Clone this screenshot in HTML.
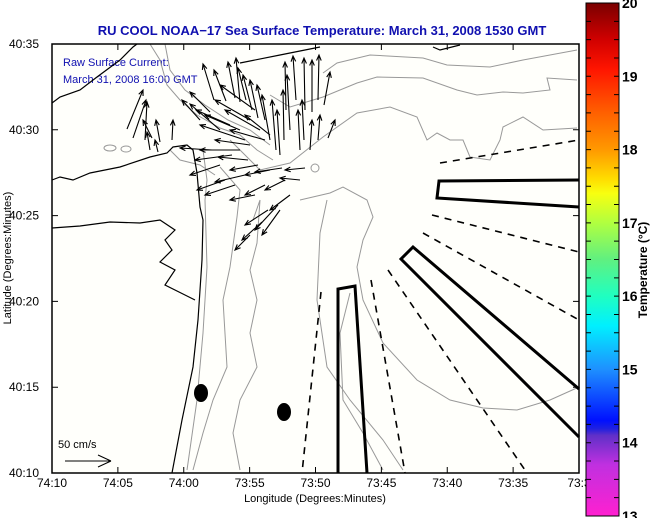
<!DOCTYPE html>
<html><head><meta charset="utf-8"><style>
html,body{margin:0;padding:0;background:#fff;}
svg{display:block;font-family:"Liberation Sans",sans-serif;}
</style></head><body>
<svg id="map" width="651" height="518" viewBox="0 0 651 518">
<defs>
<linearGradient id="cb" x1="0" y1="0" x2="0" y2="1">
<stop offset="0" stop-color="#7a0000"/><stop offset="0.071" stop-color="#d00000"/>
<stop offset="0.129" stop-color="#ff1500"/><stop offset="0.214" stop-color="#ff6000"/>
<stop offset="0.286" stop-color="#ff9900"/><stop offset="0.343" stop-color="#ffdd00"/>
<stop offset="0.371" stop-color="#f8ff10"/><stop offset="0.429" stop-color="#b0ff40"/>
<stop offset="0.5" stop-color="#60f080"/><stop offset="0.571" stop-color="#20ffc0"/>
<stop offset="0.629" stop-color="#00f0ff"/><stop offset="0.714" stop-color="#1e90ff"/>
<stop offset="0.814" stop-color="#0010ff"/><stop offset="0.83" stop-color="#2020e0"/>
<stop offset="0.843" stop-color="#6030c8"/><stop offset="0.9" stop-color="#c030e0"/>
<stop offset="1" stop-color="#ff20d0"/>
</linearGradient>
</defs>
<rect x="52" y="44" width="527" height="429" fill="#fffffb"/>
<text x="322" y="35" text-anchor="middle" font-size="13" font-weight="bold" fill="#1010b0">RU COOL  NOAA−17  Sea Surface Temperature:  March 31, 2008 1530 GMT</text>
<text x="63" y="66" font-size="11" fill="#1010b0">Raw Surface Current:</text>
<text x="63" y="83" font-size="11" fill="#1010b0">March 31, 2008 16:00 GMT</text>
<g id="contours" fill="none" stroke="#999" stroke-width="1"></g>
<g id="coast" fill="none" stroke="#000" stroke-width="1.2"></g>
<g id="boxes" fill="none" stroke="#000"></g>
<g id="arrows" stroke="#000" stroke-width="1.1" fill="none"></g>
<ellipse cx="201" cy="393" rx="7" ry="9" fill="#000"/>
<ellipse cx="284" cy="412" rx="7" ry="9" fill="#000"/>
<g>
<text x="58" y="448" font-size="11">50 cm/s</text>
<path d="M65 461 H111 M111 461 L98 455 M111 461 L98 467" stroke="#000" fill="none"/>
</g>
<rect x="52" y="44" width="527" height="429" fill="none" stroke="#000" stroke-width="1.5"/>
<g id="axes" font-size="12"></g>
<text x="315" y="502" text-anchor="middle" font-size="11">Longitude (Degrees:Minutes)</text>
<text transform="translate(11,258) rotate(-90)" text-anchor="middle" font-size="11">Latitude (Degrees:Minutes)</text>
<rect x="586" y="3" width="33" height="513" fill="url(#cb)" stroke="#000" stroke-width="1"/>
<g id="cbaxis"></g>
<text transform="translate(647,270) rotate(-90)" text-anchor="middle" font-size="12" font-weight="bold">Temperature (°C)</text>
</svg>
<script>
const xTickLabels=["74:10","74:05","74:00","73:55","73:50","73:45","73:40","73:35","73:3"];
const yTickLabels=["40:35","40:30","40:25","40:20","40:15","40:10"];
const cbTickValues=[13,14,15,16,17,18,19,20];
const NS="http://www.w3.org/2000/svg";
function mk(t,a,p){const e=document.createElementNS(NS,t);for(const k in a)e.setAttribute(k,a[k]);p.appendChild(e);return e;}
const px=i=>52+i*(527/8), py=i=>44+i*(429/5);
const ax=document.getElementById('axes');
xTickLabels.forEach((l,i)=>{
 const t=mk('text',{x:px(i),y:487,'text-anchor':'middle'},ax);t.textContent=l;
 
 
 mk('path',{d:`M${px(i)} 473 v-6 M${px(i)} 44 v6`,stroke:'#000'},ax);
});
yTickLabels.forEach((l,i)=>{
 const t=mk('text',{x:39,y:py(i)+4,'text-anchor':'end'},ax);t.textContent=l;
 
 
 mk('path',{d:`M52 ${py(i)} h6 M579 ${py(i)} h-6`,stroke:'#000'},ax);
});
const cb=document.getElementById('cbaxis');
const cy=v=>3+(20-v)/7*513;
for(let v=13;v<=20.001;v+=0.25){mk('path',{d:`M586 ${cy(v)} h5 M619 ${cy(v)} h-5`,stroke:'#000'},cb);}
cbTickValues.forEach(v=>{
 const t=mk('text',{x:622,y:cy(v)+5,'font-size':14,'font-weight':'bold'},cb);t.textContent=v;
 
 
});
const contourLines=[
[[323,73],[337,63],[370,55],[423,58],[447,65],[490,67],[523,60],[577,50]],
[[270,95],[290,107],[323,97],[357,83],[377,77],[423,78],[457,90],[477,95],[503,92],[523,93],[550,90],[547,78],[577,80]],
[[230,140],[260,170],[290,163],[323,137],[357,113],[390,107],[417,117],[427,140],[437,133],[450,140],[463,140],[470,157],[490,160],[500,140],[503,127],[523,117],[543,130],[577,128]],
[[300,200],[330,193],[343,187],[367,200],[373,217],[363,240],[357,267],[363,300],[383,343],[417,380],[450,400],[483,408],[517,410],[550,400],[579,387]],
[[327,200],[320,233],[317,300],[327,367],[350,400],[383,440],[403,470]],
[[350,293],[340,333],[343,400],[363,433],[383,470]],
[[203,150],[207,180],[205,200],[207,267],[203,333],[197,400],[187,470]],
[[220,167],[240,190],[237,217],[230,267],[223,300],[227,367],[213,400],[203,433],[193,470]],
[[253,220],[260,200],[257,243],[250,270],[257,300],[250,333],[257,367],[240,400],[233,433],[240,470]],
[[150,44],[160,60],[167,85],[180,100],[197,115],[220,128],[240,135],[257,150],[273,160]],
[[165,44],[170,70],[185,90],[205,105],[228,120],[250,130],[270,145]],
[[170,150],[180,160],[200,165],[215,175]]
];
const cg=document.getElementById('contours');
contourLines.forEach(c=>mk('polyline',{points:c.map(p=>p.join(',')).join(' ')},cg));
mk('ellipse',{cx:110,cy:148,rx:6,ry:3},cg);mk('ellipse',{cx:126,cy:149,rx:5,ry:3},cg);mk('ellipse',{cx:315,cy:168,rx:4,ry:4},cg);
const coastLines=[
[[52,103],[60,97],[80,90],[97,77],[120,60],[133,47],[137,44]],
[[240,63],[280,55],[320,47]],
[[52,180],[60,177],[73,180],[90,173],[120,167],[150,157],[167,153],[173,147],[187,145],[193,150],[197,173],[200,207],[203,220],[202,260],[198,320],[193,367],[182,420],[172,473]],
[[52,228],[80,226],[110,222],[140,223],[160,220],[175,230],[165,240],[172,250],[160,262],[175,270],[165,285],[185,295],[195,300]],
[[433,47],[440,50],[460,45]]
];
const cl=document.getElementById('coast');
coastLines.forEach(c=>mk('polyline',{points:c.map(p=>p.join(',')).join(' ')},cl));
const bx=document.getElementById('boxes');
mk('polyline',{points:'338,473 338,289 355,286 367,473','stroke-width':3},bx);
mk('polyline',{points:'579,389 413,247 401,259 579,437','stroke-width':3},bx);
mk('polyline',{points:'579,180 439,181 437,198 579,207','stroke-width':3},bx);
[[321,292,302,473],[371,280,405,473],[388,270,527,473],[423,233,579,320],[432,215,579,252],[440,163,579,140]].forEach(d=>
 mk('line',{x1:d[0],y1:d[1],x2:d[2],y2:d[3],'stroke-width':1.6,'stroke-dasharray':'7,6'},bx));
const arrowTails=[[214,100],[226,101],[235,98],[240,102],[246,100],[252,110],[258,118],[265,120],[270,140],[276,150],[280,155],[284,140],[290,130],[286,110],[296,100],[305,110],[312,112],[318,100],[324,105],[304,140],[300,150],[310,150],[318,140],[328,138],
[220,130],[230,125],[240,130],[250,120],[255,110],[260,130],[200,120],[210,112],[245,140],[265,140],[270,135],
[240,150],[250,145],[232,155],[220,165],[248,160],[258,165],[245,175],[235,185],[225,180],[270,170],[282,168],[265,185],[255,195],[285,180],[305,168],[300,180],[290,195],[278,205],[268,210],[262,222],[250,235],[280,210],[212,150],
[127,129],[133,138],[145,140],[152,138],[160,142],[172,140],[150,150],[158,152]];
const arrowHeads=[[203,64],[214,70],[228,62],[236,58],[238,68],[243,75],[250,80],[257,85],[262,95],[272,100],[277,110],[283,90],[287,75],[285,62],[293,56],[304,58],[312,60],[319,55],[330,72],[302,100],[298,110],[312,120],[320,115],[335,120],
[190,104],[196,110],[205,115],[215,100],[220,85],[225,110],[182,100],[190,92],[200,125],[230,130],[245,115],
[200,150],[215,140],[195,160],[190,175],[218,157],[230,170],[215,182],[205,195],[197,190],[245,175],[255,172],[245,195],[230,200],[265,190],[285,170],[280,178],[270,210],[255,230],[245,225],[242,240],[235,250],[262,235],[180,148],
[143,90],[146,100],[147,102],[143,120],[156,120],[173,120],[147,132],[155,140]];
const ag=document.getElementById('arrows');
arrowTails.forEach((t,i)=>{
 const h=arrowHeads[i];const a=Math.atan2(t[1]-h[1],t[0]-h[0]);const L=6;
 const p=mk('path',{d:`M${t[0]} ${t[1]} L${h[0]} ${h[1]} M${h[0]+L*Math.cos(a+0.4)} ${h[1]+L*Math.sin(a+0.4)} L${h[0]} ${h[1]} L${h[0]+L*Math.cos(a-0.4)} ${h[1]+L*Math.sin(a-0.4)}`},ag);
 
 
});
</script>
</body></html>
